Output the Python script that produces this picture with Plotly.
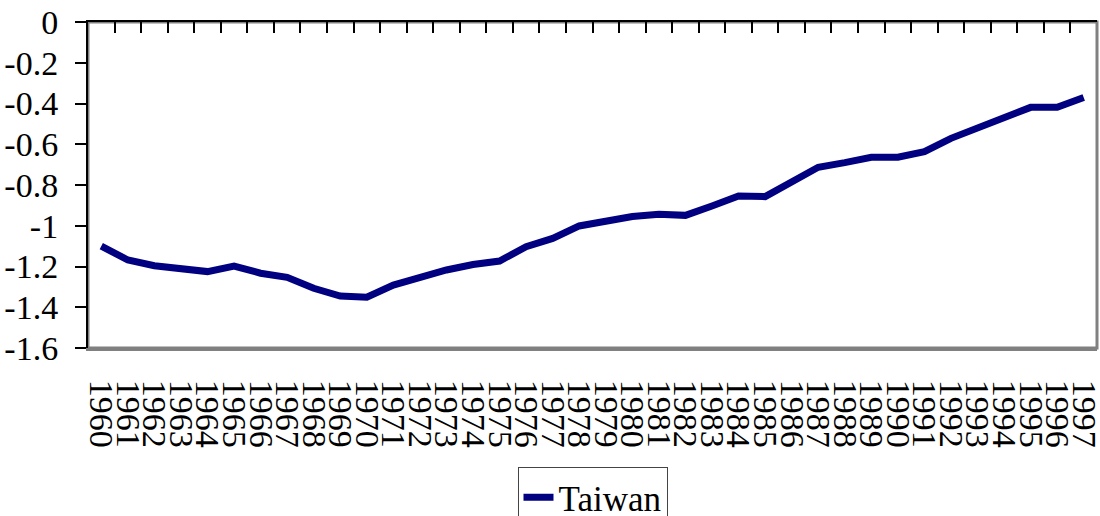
import plotly.graph_objects as go

years = [str(y) for y in range(1960, 1998)]
taiwan = [-1.10, -1.168, -1.196, -1.212, -1.225, -1.198, -1.233, -1.253, -1.307, -1.345,
          -1.351, -1.291, -1.255, -1.217, -1.190, -1.173, -1.103, -1.062, -1.001, -0.980,
          -0.955, -0.944, -0.949, -0.903, -0.854, -0.857, -0.782, -0.713, -0.690, -0.664,
          -0.664, -0.636, -0.571, -0.520, -0.465, -0.419, -0.419, -0.371]
ytick_vals = [0, -0.2, -0.4, -0.6, -0.8, -1.0, -1.2, -1.4, -1.6]
ytick_text = ["0", "-0.2", "-0.4", "-0.6", "-0.8", "-1", "-1.2", "-1.4", "-1.6"]

FONT = "Liberation Serif"
n = len(years)

fig = go.Figure()
fig.add_trace(go.Scatter(
    x=years, y=taiwan, mode="lines", name="Taiwan",
    line=dict(color="#000080", width=7),
))
# invisible trace to anchor the top category-boundary tick axis
fig.add_trace(go.Scatter(
    x=list(range(n)), y=taiwan, xaxis="x2", mode="lines",
    line=dict(width=0), opacity=0, showlegend=False, hoverinfo="skip",
))

fig.update_layout(
    width=1100, height=516,
    margin=dict(l=88, r=3, t=22, b=168, autoexpand=False),
    paper_bgcolor="white", plot_bgcolor="white",
    font=dict(family=FONT, size=33, color="black"),
    showlegend=True,
    legend=dict(
        orientation="h", x=0.5, xanchor="center", y=-0.365, yanchor="top",
        bordercolor="#444444", borderwidth=1, bgcolor="white",
        font=dict(family=FONT, size=35, color="black"),
        itemwidth=30,
    ),
    xaxis=dict(
        type="category", range=[-0.5, n - 0.5], showgrid=False, zeroline=False,
        showline=True, linecolor="#808080", linewidth=3, ticks="",
        tickmode="linear", tick0=0, dtick=1,
        tickangle=90, tickfont=dict(family=FONT, size=34, color="black"),
        automargin=False, ticklabelstandoff=22,
    ),
    xaxis2=dict(
        overlaying="x", side="top", range=[-0.5, n - 0.5], showgrid=False,
        zeroline=False, showline=True, linecolor="black", linewidth=2,
        tickmode="linear", tick0=0.5, dtick=1, ticks="inside", ticklen=11,
        tickwidth=2, tickcolor="black", showticklabels=False, automargin=False,
    ),
    yaxis=dict(
        range=[-1.6, 0], tickvals=ytick_vals, ticktext=ytick_text,
        showgrid=False, zeroline=False, showline=True, linecolor="black",
        linewidth=2, ticks="outside", ticklen=11, tickwidth=2, tickcolor="black",
        tickfont=dict(family=FONT, size=34, color="black"), automargin=False,
        ticklabelstandoff=10,
    ),
    shapes=[dict(type="rect", xref="paper", yref="paper", x0=0, x1=1, y0=0, y1=1,
                 line=dict(color="#808080", width=3), layer="below")],
)

fig.write_html("out.html", config={"displayModeBar": False},
               post_script="document.body.style.margin='0';document.body.style.overflow='hidden';")
